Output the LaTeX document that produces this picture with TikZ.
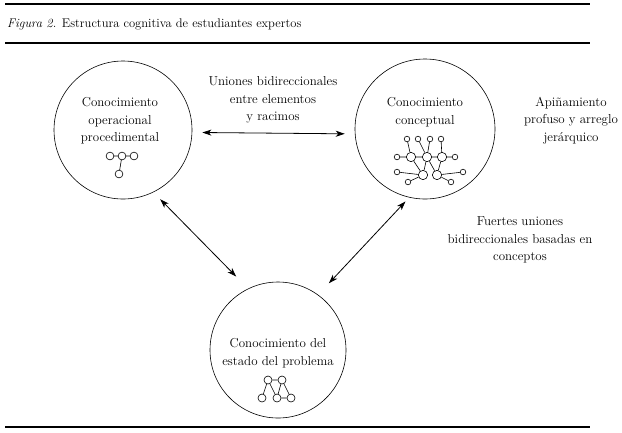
\documentclass[tikz,border=0pt]{standalone}
\usetikzlibrary{arrows.meta}
\begin{document}
\begin{tikzpicture}[x=1bp,y=-1bp,
  big/.style={circle,draw,line width=0.6bp,inner sep=0},
  lbl/.style={align=center,font=\fontsize{13}{17.5}\selectfont,inner sep=0},
  conn/.style={line width=0.8bp,{Stealth[length=9bp,width=6bp,inset=2.5bp]}-{Stealth[length=9bp,width=6bp,inset=2.5bp]}},
  rule/.style={line width=1.1bp},
  dot/.style={circle,draw,fill=white,line width=0.6bp,inner sep=0,minimum size=7.8bp},
  sdot/.style={dot,minimum size=5.6bp},
  bdot/.style={dot,minimum size=9.3bp},
  gedge/.style={line width=0.6bp}]
\useasboundingbox (0,0) rectangle (622,432);

% rules
\coordinate (r1a) at (5,4);   \coordinate (r1b) at (590,4);
\coordinate (r2a) at (5,43);  \coordinate (r2b) at (590,43);
\coordinate (r3a) at (5,427); \coordinate (r3b) at (590,427);
\draw[rule] (r1a) -- (r1b);
\draw[rule] (r2a) -- (r2b);
\draw[rule] (r3a) -- (r3b);

% title
\node[anchor=west,font=\fontsize{12.6}{15}\selectfont,inner sep=0] (title) at (7,24)
  {\textit{Figura 2.} Estructura cognitiva de estudiantes expertos};

% big circles
\node[big,minimum size=138bp] (proc) at (123,130) {};
\node[big,minimum size=140bp] (conc) at (425,129) {};
\node[big,minimum size=136bp] (stat) at (278,350) {};

% labels
\node[lbl] (procT) at (120,121) {Conocimiento\\operacional\\procedimental};
\node[lbl] (concT) at (425,112) {Conocimiento\\conceptual};
\node[lbl] (statT) at (278,353) {Conocimiento del\\estado del problema};
\node[lbl] (uni) at (273,100) {Uniones bidireccionales\\entre elementos\\y racimos};
\node[lbl] (api) at (571,120.5) {Apiñamiento\\profuso y arreglo\\jerárquico};
\node[lbl] (fue) at (520,240) {Fuertes uniones\\bidireccionales basadas en\\conceptos};

% connectors
\draw[conn,shorten <=10.1bp,shorten >=10.1bp] (proc.-2.5) -- (conc.-176.7);
\draw[conn,shorten <=9.7bp,shorten >=16.9bp] (proc.-64.1) -- (stat.116.4);
\draw[conn,shorten <=5.4bp,shorten >=15.7bp] (conc.-103.5) -- (stat.54.7);

% left small graph
\node[dot] (a1) at (110,156) {};
\node[dot] (a2) at (122,156) {};
\node[dot] (a3) at (134,156) {};
\node[dot] (a4) at (119,174) {};
\draw[gedge] (a1) -- (a2) (a2) -- (a3) (a2) -- (a4);

% bottom small graph
\node[dot,minimum size=8bp] (b1) at (268,380) {};
\node[dot,minimum size=8bp] (b2) at (282,380) {};
\node[dot,minimum size=8bp] (c1) at (262,398) {};
\node[dot,minimum size=8bp] (c2) at (277,398) {};
\node[dot,minimum size=8bp] (c3) at (291,398) {};
\draw[gedge] (b1) -- (b2) (b1) -- (c1) (b1) -- (c2) (b2) -- (c2) (b2) -- (c3) (c2) -- (c3);

% right small graph
\node[sdot] (t1) at (407,139) {};
\node[sdot] (t2) at (418,139) {};
\node[sdot] (t3) at (430,139) {};
\node[sdot] (t4) at (441,139) {};
\node[sdot] (m0) at (397,157) {};
\node[bdot] (M1) at (411,157) {};
\node[bdot] (M2) at (427,157) {};
\node[bdot] (M3) at (442,157) {};
\node[sdot] (m4) at (455,157) {};
\node[sdot] (l0) at (397,172) {};
\node[bdot] (B1) at (423,175) {};
\node[bdot] (B2) at (437,175) {};
\node[sdot] (l3) at (463,172) {};
\node[sdot] (ll1) at (408,182) {};
\node[sdot] (ll2) at (451,182) {};
\draw[gedge] (t1) -- (M1) (t2) -- (M2) (t3) -- (M2) (t4) -- (M3)
  (m0) -- (M1) (M1) -- (M2) (M2) -- (M3) (M3) -- (m4)
  (M1) -- (B1) (M2) -- (B1) (M2) -- (B2) (M3) -- (B2)
  (l0) -- (B1) (B1) -- (ll1) (B2) -- (l3) (B2) -- (ll2);
\end{tikzpicture}
\end{document}
